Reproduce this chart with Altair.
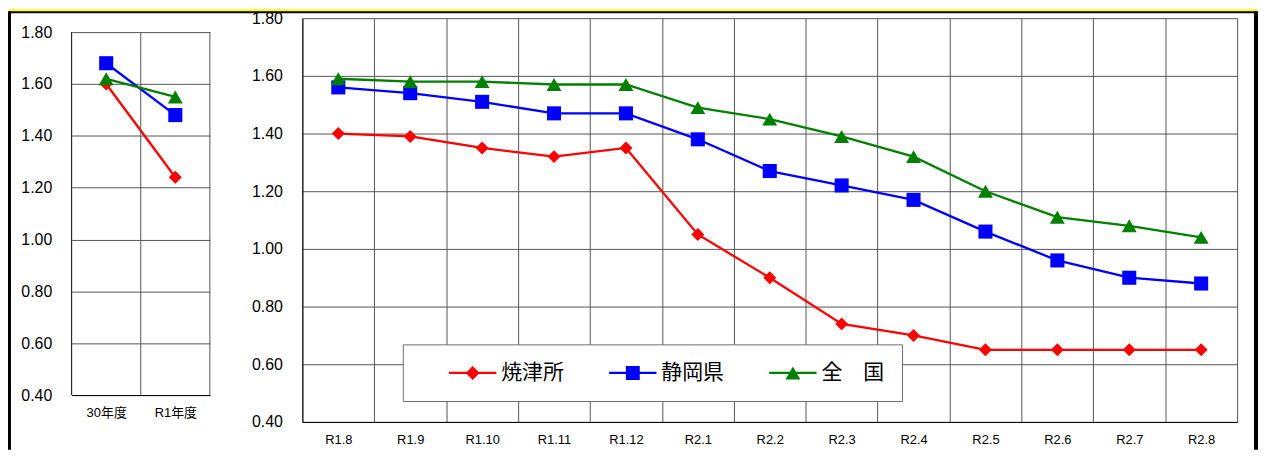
import altair as alt
import pandas as pd

# ---- data ----
series = ["焼津所", "静岡県", "全　国"]
colors = ["#FF0000", "#0000FF", "#008000"]
shapes = ["diamond", "square", "triangle-up"]
sizes = [170, 200, 225]

years = ["30年度", "R1年度"]
yaizu_year = [1.60, 1.24]
shizuoka_year = [1.68, 1.48]
zenkoku_year = [1.62, 1.55]

months = ["R1.8", "R1.9", "R1.10", "R1.11", "R1.12", "R2.1", "R2.2",
          "R2.3", "R2.4", "R2.5", "R2.6", "R2.7", "R2.8"]
yaizu = [1.40, 1.39, 1.35, 1.32, 1.35, 1.05, 0.90, 0.74, 0.70, 0.65, 0.65, 0.65, 0.65]
shizuoka = [1.56, 1.54, 1.51, 1.47, 1.47, 1.38, 1.27, 1.22, 1.17, 1.06, 0.96, 0.90, 0.88]
zenkoku = [1.59, 1.58, 1.58, 1.57, 1.57, 1.49, 1.45, 1.39, 1.32, 1.20, 1.11, 1.08, 1.04]

y_ticks = [0.40, 0.60, 0.80, 1.00, 1.20, 1.40, 1.60, 1.80]

# legend symbols: line segment + marker (unit coords)
legend_paths = [
    "M0,-0.16L6.8,-0.16L6.8,0.16L0,0.16Z M2.4,0L3.4,-1L4.4,0L3.4,1Z",
    "M0,-0.16L6.8,-0.16L6.8,0.16L0,0.16Z M2.4,-1L4.4,-1L4.4,1L2.4,1Z",
    "M0,-0.16L6.8,-0.16L6.8,0.16L0,0.16Z M3.4,-0.93L4.47,0.93L2.33,0.93Z",
]


def long_df(periods, vals_list):
    rows = []
    for s, vals in zip(series, vals_list):
        for i, (p, v) in enumerate(zip(periods, vals)):
            rows.append({"period": p, "series": s, "value": v, "idx": i})
    return pd.DataFrame(rows)


df_year = long_df(years, [yaizu_year, shizuoka_year, zenkoku_year])
df_month = long_df(months, [yaizu, shizuoka, zenkoku])

NUM_FONT = "Liberation Sans"
X_FONT = "Liberation Sans, Noto Sans CJK JP"
GRID = "#555555"

# left panel: plot top sits 14px below the right panel's; the extra strip is
# covered by extending the y domain above 1.80 (365px for 1.40 units)
LEFT_H = 379
LEFT_TOP = 1.8 + 14 * 1.4 / 365


def encodings(order, ymax, xgrid):
    x = alt.X("period:N", sort=order, title=None,
              scale=alt.Scale(paddingInner=0, paddingOuter=0),
              axis=alt.Axis(labelAngle=0, grid=xgrid, tickBand="extent", ticks=False,
                            tickSize=0, labelPadding=12, labelFontSize=13,
                            labelFont=X_FONT, labelColor="#000000",
                            domainColor="#000000", gridColor=GRID, gridWidth=1))
    y = alt.Y("value:Q", scale=alt.Scale(domain=[0.4, ymax], nice=False, zero=False),
              title=None,
              axis=alt.Axis(values=y_ticks, format=".2f", ticks=False, tickSize=0,
                            domain=xgrid, labelPadding=20, labelFontSize=16,
                            labelFont=NUM_FONT, labelColor="#000000",
                            domainColor="#000000", gridColor=GRID, gridWidth=1))
    return x, y


def series_layers(df, x, y):
    layers = []
    base = alt.Chart(df).encode(x=x, y=y)
    for s, c, sh, sz in zip(series, colors, shapes, sizes):
        sub = base.transform_filter(alt.datum.series == s)
        layers.append(sub.mark_line(color=c, strokeWidth=2.3).encode(order=alt.Order("idx:Q")))
        layers.append(sub.mark_point(filled=True, opacity=1, color=c, shape=sh, size=sz))
    return layers


one = pd.DataFrame({"k": [0]})


def hrule(x1, x2, y, color, w):
    return alt.Chart(one).mark_rule(color=color, strokeWidth=w, strokeCap="butt").encode(
        x=alt.value(x1), x2=alt.value(x2), y=alt.value(y))


def vrule(x, y1, y2, color, w):
    return alt.Chart(one).mark_rule(color=color, strokeWidth=w, strokeCap="butt").encode(
        x=alt.value(x), y=alt.value(y1), y2=alt.value(y2))


# outer frame, relative to the left panel origin
frame = [
    hrule(-63, 1192, -8, "#FFFF00", 2),
    hrule(-63, 1192, -6, "#000000", 2),
    vrule(-62.5, -7, 434, "#000000", 3),
    vrule(1191, -7, 434, "#000000", 4),
]

# ---- left panel ----
lx, ly = encodings(years, LEFT_TOP, False)
period_df = pd.DataFrame({"period": years})
left_vlines = alt.Chart(period_df).mark_rule(color=GRID, strokeWidth=1).encode(
    x=alt.X("period:N", sort=years, bandPosition=1),
    y=alt.datum(1.8), y2=alt.datum(0.4))
left_border = alt.Chart(one).mark_rule(color="#000000", strokeWidth=1).encode(
    x=alt.value(0), y=alt.datum(1.8), y2=alt.datum(0.4))

left = alt.layer(
    *(frame + series_layers(df_year, lx, ly) + [left_vlines, left_border])
).properties(width=139, height=LEFT_H)

# ---- right panel ----
rx, ry = encodings(months, 1.8, True)

legend_def = alt.Legend(
    orient="none", legendX=101, legendY=328, direction="horizontal",
    fillColor="white", strokeColor="#6e6e6e", padding=18, symbolSize=196,
    symbolOffset=18, labelOffset=42, labelFontSize=21, labelFont="Noto Sans CJK JP",
    labelColor="#000000", columnPadding=17, symbolStrokeWidth=0, symbolOpacity=1,
)

# layer that only provides the legend (its points are clipped away)
legend_layer = alt.Chart(df_month).mark_point(filled=True, clip=True).encode(
    x=alt.value(-200), y=alt.value(-200),
    fill=alt.Fill("series:N", scale=alt.Scale(domain=series, range=colors),
                  legend=legend_def, title=""),
    shape=alt.Shape("series:N", scale=alt.Scale(domain=series, range=legend_paths),
                    legend=legend_def, title=""),
)

right = alt.layer(*(series_layers(df_month, rx, ry) + [legend_layer])).properties(
    width=940, height=406)

chart = (
    alt.hconcat(left, right, spacing=93, bounds="flush")
    .resolve_scale(x="independent", y="independent", fill="independent", shape="independent")
    .properties(padding=0, background="white")
    .configure_view(stroke=None)
)

chart.save("out.html", embed_options={"renderer": "svg", "actions": False})
